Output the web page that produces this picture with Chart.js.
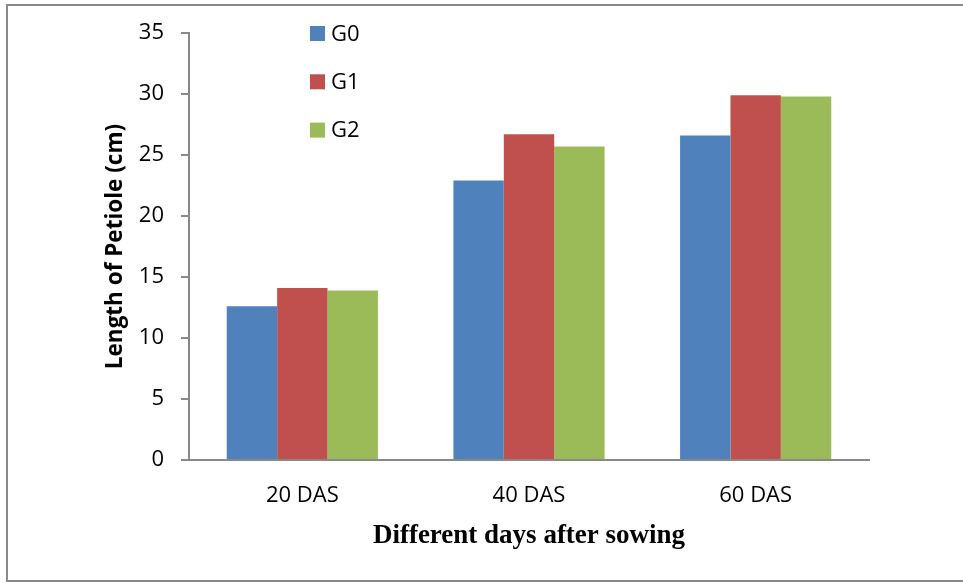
<!DOCTYPE html>
<html>
<head>
<meta charset="utf-8">
<script src="https://cdn.jsdelivr.net/npm/chart.js@4/dist/chart.umd.min.js"></script>
<style>
  html, body { margin: 0; padding: 0; background: #fff; }
  #wrap { position: relative; width: 963px; height: 583px; }
</style>
</head>
<body>
<div id="wrap"><canvas id="petiole-chart"></canvas></div>
<script>
const days = ['20 DAS', '40 DAS', '60 DAS'];
const seriesNames = ['G0', 'G1', 'G2'];
const g0 = [12.6, 22.9, 26.6];
const g1 = [14.1, 26.7, 29.9];
const g2 = [13.9, 25.7, 29.8];
const colors = ['#4F81BD', '#C0504D', '#9BBB59'];

const axisGray = '#898989';
const tickFont = { family: '"Open Sans", "Noto Sans", sans-serif', size: 22 };

// grey frame round the chart (top, left, bottom only as in the picture)
const frame = {
  id: 'frame',
  beforeDraw(chart) {
    const ctx = chart.ctx;
    ctx.save();
    ctx.strokeStyle = axisGray;
    ctx.lineWidth = 2;
    ctx.beginPath();
    ctx.moveTo(963, 5);
    ctx.lineTo(7, 5);
    ctx.lineTo(7, 581);
    ctx.lineTo(963, 581);
    ctx.stroke();
    ctx.restore();
  }
};

// legend sits inside the plot, stacked vertically
const innerLegend = {
  id: 'innerLegend',
  afterDraw(chart) {
    const ctx = chart.ctx;
    ctx.save();
    ctx.font = '22px "Open Sans", "Noto Sans", sans-serif';
    ctx.textBaseline = 'middle';
    chart.data.datasets.forEach((ds, i) => {
      const cy = 33.5 + i * 48.3;
      ctx.fillStyle = ds.backgroundColor;
      ctx.fillRect(310, cy - 7.5, 15, 15);
      ctx.fillStyle = '#000';
      ctx.fillText(ds.label, 331, cy + 1);
    });
    ctx.restore();
  }
};

const data = {
  labels: days,
  datasets: [g0, g1, g2].map((vals, i) => ({
    label: seriesNames[i],
    data: vals,
    backgroundColor: colors[i],
    borderWidth: 0,
    categoryPercentage: 0.667,
    barPercentage: 1,
  })),
};

const config = {
  type: 'bar',
  data,
  options: {
    responsive: false,
    animation: false,
    layout: { padding: { left: 0, right: 94, top: 33, bottom: 0 } },
    plugins: {
      legend: { display: false },
      tooltip: { enabled: false },
    },
    scales: {
      x: {
        afterFit: s => { s.height = 123; },
        grid: { display: true, drawOnChartArea: false, drawTicks: false },
        border: { color: axisGray, width: 2 },
        ticks: { color: '#000', font: tickFont, padding: 23 },
        title: {
          display: true,
          text: 'Different days after sowing',
          color: '#000',
          font: { family: '"Liberation Serif", "Times New Roman", serif', size: 27, weight: 'bold' },
          padding: { top: 0, bottom: 31 },
        },
      },
      y: {
        min: 0,
        max: 35,
        afterFit: s => { s.width = 189; },
        grid: { drawOnChartArea: false, drawTicks: true, tickLength: 8, color: axisGray, lineWidth: 2 },
        border: { color: axisGray, width: 2 },
        ticks: { stepSize: 5, color: '#000', font: tickFont, padding: 17 },
        title: {
          display: true,
          text: 'Length of Petiole (cm)',
          color: '#000',
          font: { family: '"Open Sans", "Noto Sans", sans-serif', size: 22.5, weight: 'bold' },
          padding: { top: 102, bottom: 0 },
        },
      },
    },
  },
  plugins: [frame, innerLegend],
};

const canvas = document.getElementById('petiole-chart');
canvas.width = 963;
canvas.height = 583;
new Chart(canvas, config);
</script>
</body>
</html>
